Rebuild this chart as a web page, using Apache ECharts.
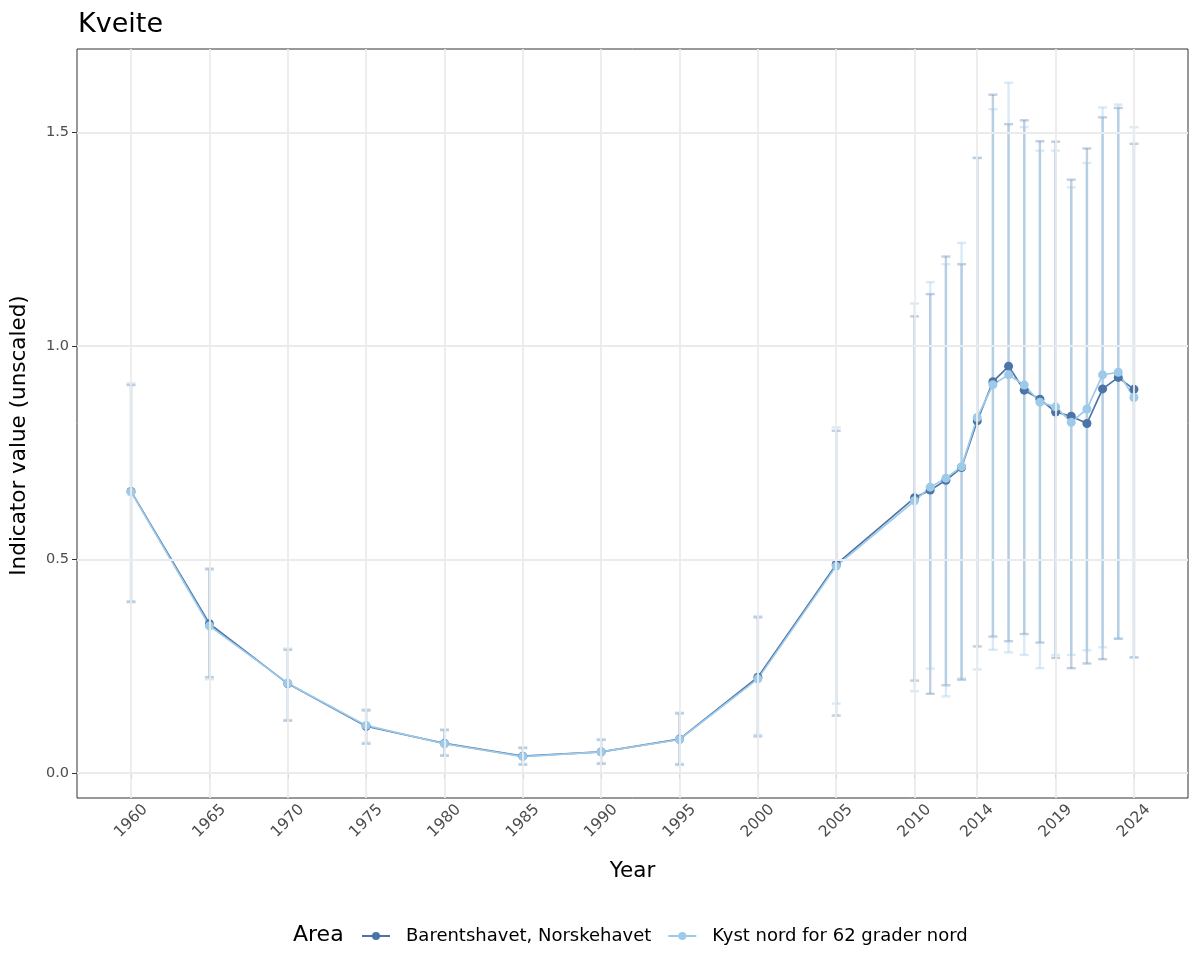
<!DOCTYPE html>
<html>
<head>
<meta charset="utf-8">
<script src="https://cdn.jsdelivr.net/npm/echarts@6/dist/echarts.min.js"></script>
<style>
    html, body { margin: 0; padding: 0; background: #fff; }
    #chart { width: 1200px; height: 975px; }
</style>
</head>
<body>
<div id="chart"></div>
<script>
    const years = [1960, 1965, 1970, 1975, 1980, 1985, 1990, 1995, 2000, 2005,
        2010, 2011, 2012, 2013, 2014, 2015, 2016, 2017, 2018, 2019, 2020, 2021, 2022, 2023, 2024];

    // Barentshavet, Norskehavet
    const barentsValue = [0.660, 0.350, 0.210, 0.110, 0.070, 0.040, 0.050, 0.080, 0.225, 0.489,
        0.645, 0.663, 0.686, 0.716, 0.825, 0.917, 0.953, 0.897, 0.876, 0.846, 0.836, 0.819, 0.900, 0.927, 0.899];
    const barentsLower = [0.402, 0.225, 0.123, 0.069, 0.041, 0.020, 0.022, 0.020, 0.086, 0.135,
        0.217, 0.186, 0.206, 0.219, 0.297, 0.320, 0.309, 0.326, 0.306, 0.270, 0.246, 0.257, 0.267, 0.315, 0.271];
    const barentsUpper = [0.909, 0.479, 0.289, 0.147, 0.101, 0.059, 0.078, 0.140, 0.365, 0.802,
        1.070, 1.122, 1.210, 1.192, 1.441, 1.589, 1.520, 1.529, 1.480, 1.479, 1.390, 1.463, 1.536, 1.558, 1.474];

    // Kyst nord for 62 grader nord
    const kystValue = [0.659, 0.345, 0.211, 0.112, 0.069, 0.039, 0.050, 0.079, 0.221, 0.485,
        0.638, 0.670, 0.691, 0.718, 0.833, 0.910, 0.933, 0.909, 0.869, 0.858, 0.822, 0.853, 0.933, 0.939, 0.880];
    const kystLower = [0.400, 0.220, 0.125, 0.072, 0.043, 0.022, 0.024, 0.022, 0.090, 0.163,
        0.192, 0.245, 0.180, 0.222, 0.243, 0.289, 0.283, 0.277, 0.246, 0.277, 0.277, 0.288, 0.295, 0.315, 0.272];
    const kystUpper = [0.913, 0.476, 0.292, 0.150, 0.103, 0.061, 0.080, 0.142, 0.368, 0.810,
        1.100, 1.150, 1.192, 1.242, 1.441, 1.555, 1.617, 1.513, 1.458, 1.458, 1.372, 1.429, 1.559, 1.566, 1.513];

    const xTicks = [1960, 1965, 1970, 1975, 1980, 1985, 1990, 1995, 2000, 2005, 2010, 2014, 2019, 2024];
    const yTicks = [0, 0.5, 1, 1.5];

    const darkBlue = '#4b74a8';
    const lightBlue = '#9ecae9';
    const font = 'DejaVu Sans';

    let chart = echarts.init(document.getElementById('chart'), null, {renderer: 'canvas'});

    // error bars: vertical segment + caps
    function errorBars(name, lower, upper, color) {
        return {
            type: 'custom',
            name: name,
            silent: true,
            z: 2,
            encode: {x: 0, y: [1, 2]},
            data: years.map((y, i) => [y, lower[i], upper[i]]),
            renderItem(params, api) {
                let lo = api.coord([api.value(0), api.value(1)]);
                let hi = api.coord([api.value(0), api.value(2)]);
                let w = 4.5;
                let style = {stroke: color, lineWidth: 2.4};
                return {
                    type: 'group',
                    children: [
                        {type: 'line', shape: {x1: hi[0], y1: hi[1], x2: lo[0], y2: lo[1]}, style: style},
                        {type: 'line', shape: {x1: hi[0] - w, y1: hi[1], x2: hi[0] + w, y2: hi[1]}, style: style},
                        {type: 'line', shape: {x1: lo[0] - w, y1: lo[1], x2: lo[0] + w, y2: lo[1]}, style: style}
                    ]
                };
            }
        };
    }

    function lineSeries(name, values, color) {
        return {
            type: 'line',
            name: name,
            z: 3,
            data: years.map((y, i) => [y, values[i]]),
            symbol: 'circle',
            symbolSize: 9,
            lineStyle: {color: color, width: 1.7},
            itemStyle: {color: color},
            emphasis: {disabled: true}
        };
    }

    let option = {
        animation: false,
        backgroundColor: '#fff',
        textStyle: {fontFamily: font},
        title: {
            text: 'Kveite',
            left: 73,
            top: 6,
            textStyle: {fontFamily: font, fontSize: 27, fontWeight: 'normal', color: '#000'}
        },
        grid: {
            left: 77, right: 12, top: 49, bottom: 177,
            outerBoundsMode: 'none',
            containLabel: false,
            show: true, borderColor: '#333', borderWidth: 1, backgroundColor: 'transparent'
        },
        xAxis: {
            type: 'value',
            min: 1956.55,
            max: 2027.45,
            name: 'Year',
            nameLocation: 'middle',
            nameGap: 62,
            nameTextStyle: {fontFamily: font, fontSize: 21.5, color: '#000'},
            axisLine: {show: false},
            axisTick: {show: true, length: 5, customValues: xTicks, lineStyle: {color: '#333'}},
            axisLabel: {
                customValues: xTicks, rotate: 45, margin: 23,
                align: 'center', verticalAlign: 'middle',
                fontFamily: font, fontSize: 15.5, color: '#4d4d4d',
                formatter: v => String(Math.round(v))
            },
            splitLine: {show: false}
        },
        yAxis: {
            type: 'value',
            min: -0.058,
            max: 1.696,
            name: 'Indicator value (unscaled)',
            nameLocation: 'middle',
            nameGap: 47,
            nameTextStyle: {fontFamily: font, fontSize: 21.5, color: '#000', padding: [0, 24, 0, 0]},
            axisLine: {show: false},
            axisTick: {show: true, length: 5, customValues: yTicks, lineStyle: {color: '#333'}},
            axisLabel: {
                customValues: yTicks, margin: 8,
                fontFamily: font, fontSize: 14.5, color: '#4d4d4d',
                formatter: v => v.toFixed(1)
            },
            splitLine: {show: false}
        },
        legend: {
            data: ['Barentshavet, Norskehavet', 'Kyst nord for 62 grader nord'],
            left: 356,
            top: 922,
            itemWidth: 28,
            itemHeight: 10,
            itemGap: 16,
            textStyle: {fontFamily: font, fontSize: 18, color: '#000', padding: [0, 0, 0, 11]}
        },
        graphic: [{
            type: 'text',
            left: 293,
            top: 924,
            style: {text: 'Area', fontFamily: font, fontSize: 22, fill: '#000'}
        }],
        series: [
            {
                type: 'line',
                name: 'grid',
                data: [],
                silent: true,
                z: 1,
                markLine: {
                    silent: true,
                    symbol: 'none',
                    label: {show: false},
                    lineStyle: {color: '#ebebeb', width: 1.8, type: 'solid'},
                    data: xTicks.map(x => ({xAxis: x})).concat(yTicks.map(y => ({yAxis: y})))
                }
            },
            errorBars('Barentshavet err', barentsLower, barentsUpper, 'rgba(75,116,168,0.34)'),
            errorBars('Kyst err', kystLower, kystUpper, 'rgba(158,202,233,0.38)'),
            lineSeries('Barentshavet, Norskehavet', barentsValue, darkBlue),
            lineSeries('Kyst nord for 62 grader nord', kystValue, lightBlue)
        ]
    };
    chart.setOption(option);
</script>
</body>
</html>
